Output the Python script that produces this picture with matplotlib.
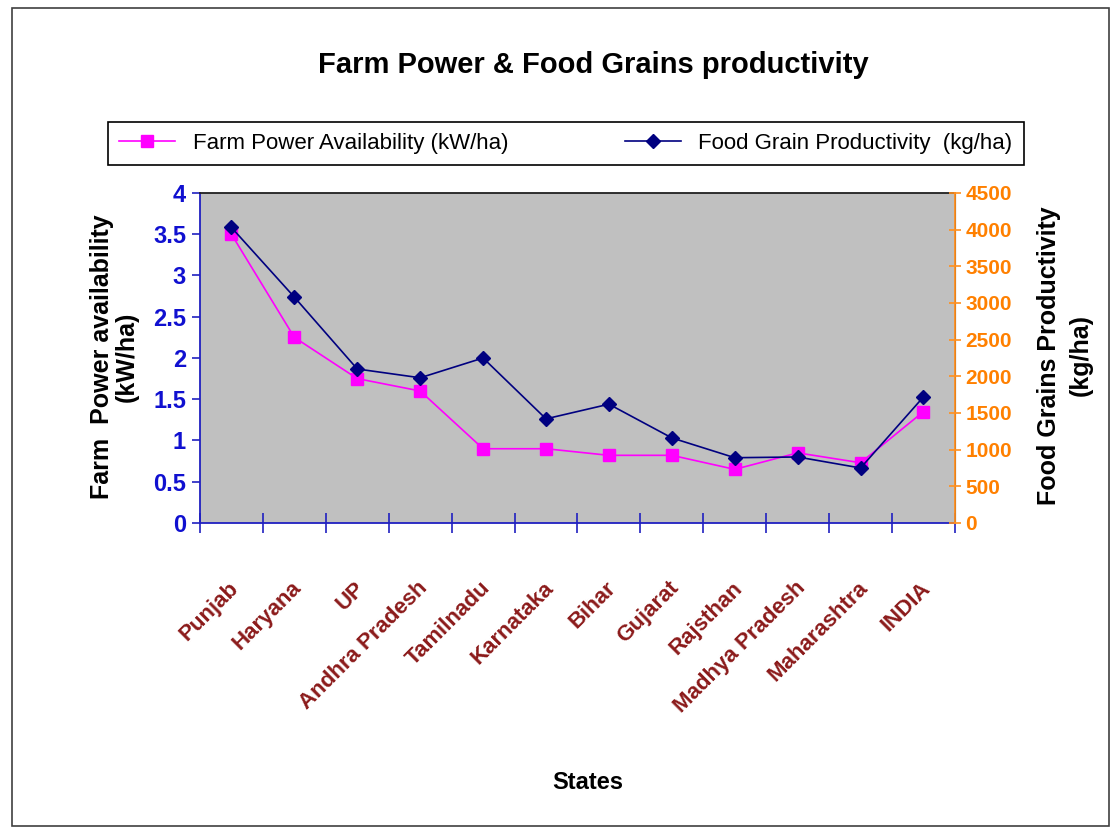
import numpy as np
import matplotlib
matplotlib.use("Agg")
import matplotlib.pyplot as plt
from matplotlib.patches import Rectangle

states = ["Punjab", "Haryana", "UP", "Andhra Pradesh", "Tamilnadu", "Karnataka",
          "Bihar", "Gujarat", "Rajsthan", "Madhya Pradesh", "Maharashtra", "INDIA"]
farm_power = [3.5, 2.25, 1.75, 1.6, 0.9, 0.9, 0.82, 0.82, 0.65, 0.85, 0.73, 1.35]
food_grain = [4030, 3080, 2100, 1980, 2250, 1420, 1620, 1160, 890, 900, 750, 1720]

arial = ["Liberation Sans", "DejaVu Sans"]

fig = plt.figure(figsize=(11.19, 8.3), dpi=100)
fig.patches.append(Rectangle((0.011, 0.005), 0.98, 0.985, transform=fig.transFigure,
                             fill=False, edgecolor="#404040", lw=1.2))

ax = fig.add_axes([0.1787, 0.3699, 0.6747, 0.3976])
ax.set_facecolor("#C0C0C0")
x = np.arange(len(states))

l1, = ax.plot(x, farm_power, color="#FF00FF", marker="s", markersize=9, lw=1.2)
ax.set_ylim(0, 4)
ax.set_xlim(-0.5, len(states) - 0.5)
ax.set_yticks(np.arange(0, 4.01, 0.5))
ax.set_yticklabels(["0", "0.5", "1", "1.5", "2", "2.5", "3", "3.5", "4"],
                   family=arial, fontsize=17, fontweight="bold", color="#1010D0")
ax.tick_params(axis="y", direction="out", length=6, color="#2020C0", width=1.2, pad=4)

ax.set_xticks(np.append(x - 0.5, len(states) - 0.5))
ax.set_xticklabels([])
ax.tick_params(axis="x", direction="inout", length=14, color="#2020C0", width=1.2)
for i, s in enumerate(states):
    ax.text(i - 0.05, -0.66, s, rotation=45, ha="right", va="top", rotation_mode="anchor",
            family=arial, fontsize=16, fontweight="bold", color="#8B1A1A")

for side, c in [("left", "#2020C0"), ("bottom", "#2020C0"), ("top", "#202020")]:
    ax.spines[side].set_color(c)
    ax.spines[side].set_linewidth(1.3)

ax2 = ax.twinx()
l2, = ax2.plot(x, food_grain, color="#000080", marker="D", markersize=7, lw=1.2)
ax2.set_ylim(0, 4500)
ax2.set_yticks(np.arange(0, 4501, 500))
ax2.set_yticklabels([str(v) for v in range(0, 4501, 500)],
                    family=arial, fontsize=15, fontweight="bold", color="#FF8000")
ax2.tick_params(axis="y", direction="inout", length=8, color="#FF9020", width=1.2)
ax2.spines["right"].set_color("#FF9020")
ax2.spines["right"].set_linewidth(1.3)
ax2.spines["left"].set_visible(False)
ax2.spines["bottom"].set_visible(False)
ax2.spines["top"].set_visible(False)

fig.text(0.53, 0.922, "Farm Power & Food Grains productivity", ha="center", va="center",
         family=arial, fontsize=21, fontweight="bold")

fig.text(0.091, 0.57, "Farm  Power availability", rotation=90, ha="center", va="center",
         family=arial, fontsize=18, fontweight="bold")
fig.text(0.113, 0.57, "(kW/ha)", rotation=90, ha="center", va="center",
         family=arial, fontsize=18, fontweight="bold")
fig.text(0.937, 0.572, "Food Grains Productivity", rotation=90, ha="center", va="center",
         family=arial, fontsize=18, fontweight="bold")
fig.text(0.966, 0.572, "(kg/ha)", rotation=90, ha="center", va="center",
         family=arial, fontsize=18, fontweight="bold")
fig.text(0.525, 0.057, "States", ha="center", va="center",
         family=arial, fontsize=17, fontweight="bold")

leg = fig.legend([l1, l2], ["Farm Power Availability (kW/ha)", "Food Grain Productivity  (kg/ha)"],
                 loc="center", bbox_to_anchor=(0.0867, 0.795, 0.838, 0.064), mode="expand",
                 ncol=2, frameon=True, fancybox=False, edgecolor="black", framealpha=1,
                 prop={"family": arial, "size": 16}, handlelength=2.5, borderpad=0.5,
                 columnspacing=3.0)
leg.get_frame().set_linewidth(1.2)

fig.savefig("out.png", dpi=100)
